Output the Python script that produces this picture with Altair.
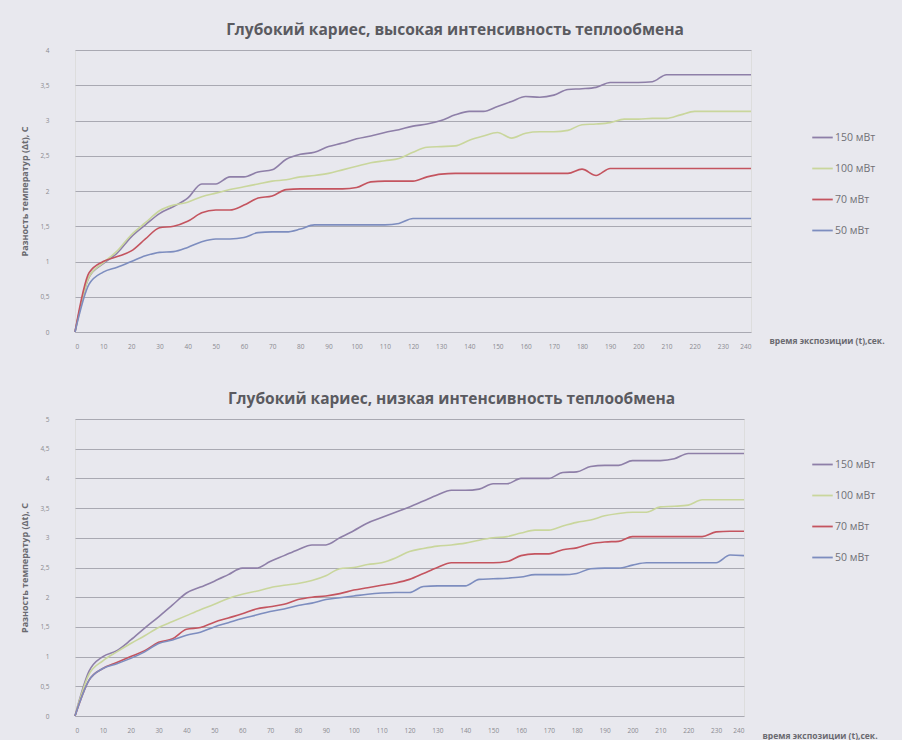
import altair as alt
import pandas as pd

# Exposure time, seconds (sampled every 5 s)
times = list(range(0, 245, 5))

series_names = ["150 мВт", "100 мВт", "70 мВт", "50 мВт"]
series_colors = ["#8e7fa8", "#c9d69c", "#c4545f", "#7d8dbf"]

# High heat-exchange intensity, temperature difference Δt, °C
high_150 = [0, 0.78, 0.97, 1.12, 1.35, 1.52, 1.68, 1.78, 1.9, 2.1, 2.1, 2.2, 2.2, 2.27, 2.3,
            2.45, 2.52, 2.55, 2.63, 2.68, 2.74, 2.78, 2.83, 2.87, 2.92, 2.95, 3.0, 3.08, 3.13,
            3.13, 3.2, 3.27, 3.34, 3.33, 3.36, 3.44, 3.45, 3.47, 3.54, 3.54, 3.54, 3.55, 3.65,
            3.65, 3.65, 3.65, 3.65, 3.65, 3.65]
high_100 = [0, 0.78, 0.98, 1.15, 1.38, 1.55, 1.72, 1.8, 1.84, 1.92, 1.97, 2.02, 2.06, 2.1, 2.14,
            2.16, 2.2, 2.22, 2.25, 2.3, 2.35, 2.4, 2.43, 2.46, 2.55, 2.62, 2.63, 2.64, 2.72,
            2.78, 2.83, 2.75, 2.82, 2.84, 2.84, 2.86, 2.94, 2.95, 2.97, 3.02, 3.02, 3.03, 3.03,
            3.08, 3.13, 3.13, 3.13, 3.13, 3.13]
high_70 = [0, 0.84, 1.0, 1.07, 1.15, 1.32, 1.48, 1.5, 1.57, 1.69, 1.73, 1.73, 1.8, 1.9, 1.93,
           2.02, 2.03, 2.03, 2.03, 2.03, 2.05, 2.13, 2.14, 2.14, 2.14, 2.2, 2.24, 2.25, 2.25,
           2.25, 2.25, 2.25, 2.25, 2.25, 2.25, 2.25, 2.31, 2.22, 2.32, 2.32, 2.32, 2.32, 2.32,
           2.32, 2.32, 2.32, 2.32, 2.32, 2.32]
high_50 = [0, 0.68, 0.85, 0.92, 1.0, 1.08, 1.13, 1.14, 1.2, 1.28, 1.32, 1.32, 1.34, 1.41, 1.42,
           1.42, 1.46, 1.52, 1.52, 1.52, 1.52, 1.52, 1.52, 1.54, 1.61, 1.61, 1.61, 1.61, 1.61,
           1.61, 1.61, 1.61, 1.61, 1.61, 1.61, 1.61, 1.61, 1.61, 1.61, 1.61, 1.61, 1.61, 1.61,
           1.61, 1.61, 1.61, 1.61, 1.61, 1.61]

# Low heat-exchange intensity, temperature difference Δt, °C
low_150 = [0, 0.75, 1.0, 1.1, 1.28, 1.48, 1.67, 1.87, 2.07, 2.17, 2.27, 2.38, 2.49, 2.49, 2.6,
           2.7, 2.8, 2.88, 2.88, 3.0, 3.12, 3.25, 3.34, 3.43, 3.52, 3.62, 3.72, 3.8, 3.8, 3.82,
           3.91, 3.91, 4.0, 4.0, 4.0, 4.1, 4.11, 4.2, 4.22, 4.22, 4.3, 4.3, 4.3, 4.33, 4.42,
           4.42, 4.42, 4.42, 4.42]
low_100 = [0, 0.7, 0.93, 1.08, 1.22, 1.35, 1.49, 1.59, 1.69, 1.79, 1.88, 1.98, 2.05, 2.1, 2.16,
           2.2, 2.23, 2.28, 2.36, 2.48, 2.5, 2.55, 2.58, 2.66, 2.77, 2.82, 2.86, 2.88, 2.91,
           2.96, 3.0, 3.02, 3.08, 3.13, 3.13, 3.2, 3.26, 3.3, 3.37, 3.41, 3.43, 3.43, 3.52,
           3.53, 3.55, 3.64, 3.64, 3.64, 3.64]
low_70 = [0, 0.6, 0.8, 0.9, 1.0, 1.1, 1.24, 1.3, 1.46, 1.49, 1.58, 1.65, 1.72, 1.8, 1.84, 1.88,
          1.96, 2.0, 2.02, 2.06, 2.12, 2.16, 2.2, 2.24, 2.3, 2.4, 2.5, 2.58, 2.58, 2.58, 2.58,
          2.6, 2.7, 2.73, 2.73, 2.8, 2.83, 2.9, 2.93, 2.94, 3.02, 3.02, 3.02, 3.02, 3.02, 3.02,
          3.1, 3.11, 3.11]
low_50 = [0, 0.6, 0.8, 0.88, 0.97, 1.08, 1.22, 1.28, 1.36, 1.41, 1.5, 1.57, 1.64, 1.7, 1.76,
          1.8, 1.86, 1.9, 1.96, 1.99, 2.02, 2.05, 2.07, 2.08, 2.08, 2.18, 2.19, 2.19, 2.19,
          2.3, 2.31, 2.32, 2.34, 2.38, 2.38, 2.38, 2.4, 2.48, 2.49, 2.49, 2.54, 2.58, 2.58,
          2.58, 2.58, 2.58, 2.58, 2.71, 2.7]

x_ticks = list(range(0, 250, 10))

FONT = "Open Sans"
TEXT = "#5a5a60"
GRID = "#a9a9b2"


def long_table(columns):
    rows = []
    for name, values in zip(series_names, columns):
        for t, v in zip(times, values):
            rows.append({"t": t, "dt": v, "series": name})
    return pd.DataFrame(rows)


def panel(columns, title, y_max, width, height, legend_x, legend_y, x_title_y):
    data = long_table(columns)
    y_ticks = [i * 0.5 for i in range(int(y_max * 2) + 1)]
    return (
        alt.Chart(data)
        .mark_line(strokeWidth=1.6, interpolate="monotone")
        .encode(
            x=alt.X(
                "t:Q",
                scale=alt.Scale(domain=[0, 240], nice=False, zero=True),
                axis=alt.Axis(
                    values=x_ticks,
                    title="время экспозиции (t),сек.",
                    titleAnchor="end",
                    titleAlign="left",
                    titleBaseline="middle",
                    titleX=width + 18,
                    titleY=x_title_y,
                    titleFontSize=8.5,
                    titleFontWeight="bold",
                    titleColor="#6a6a70",
                    labelFontSize=6.5,
                    labelColor="#8a8a90",
                    labelPadding=11,
                    grid=False,
                    domain=False,
                    ticks=False,
                ),
            ),
            y=alt.Y(
                "dt:Q",
                scale=alt.Scale(domain=[0, y_max], nice=False),
                axis=alt.Axis(
                    values=y_ticks,
                    title="Разность температур (Δt), С",
                    titleFontSize=9,
                    titleFontWeight="bold",
                    titleColor="#6a6a70",
                    titlePadding=10,
                    labelExpr="replace(toString(datum.value), '.', ',')",
                    labelFontSize=6.5,
                    labelColor="#8a8a90",
                    labelPadding=26,
                    gridColor=GRID,
                    gridWidth=1,
                    domain=False,
                    ticks=False,
                ),
            ),
            color=alt.Color(
                "series:N",
                scale=alt.Scale(domain=series_names, range=series_colors),
                legend=alt.Legend(
                    title=None,
                    orient="none",
                    legendX=legend_x,
                    legendY=legend_y,
                    symbolType="stroke",
                    symbolSize=420,
                    symbolStrokeWidth=1.8,
                    labelFontSize=10.5,
                    labelColor="#707076",
                    labelOffset=1,
                    rowPadding=14,
                ),
            ),
        )
        .properties(
            width=width,
            height=height,
            title=alt.TitleParams(
                title,
                fontSize=15.5,
                fontWeight="bold",
                color=TEXT,
                anchor="middle",
                dx=42,
                offset=9,
            ),
        )
    )


top = panel(
    [high_150, high_100, high_70, high_50],
    "Глубокий кариес, высокая интенсивность теплообмена",
    4, 676, 282, 736, 76, 8,
)
bottom = panel(
    [low_150, low_100, low_70, low_50],
    "Глубокий кариес, низкая интенсивность теплообмена",
    5, 669, 297, 736, 34, 19,
)

chart = (
    alt.vconcat(top, bottom, spacing=41)
    .resolve_legend(color="independent")
    .resolve_scale(color="independent")
    .properties(background="#e8e8ee", padding={"left": 20, "top": 22, "right": 17, "bottom": 0})
    .configure_view(stroke=None)
    .configure(font=FONT)
)

chart.save("out.html", embed_options={"renderer": "svg", "actions": False})
